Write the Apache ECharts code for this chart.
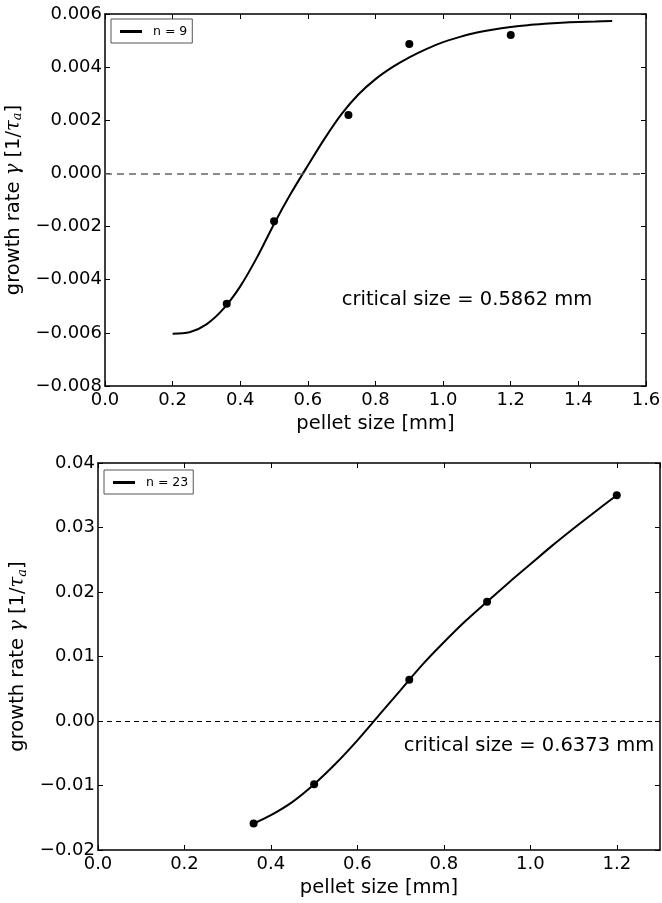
<!DOCTYPE html>
<html>
<head>
<meta charset="utf-8">
<script src="https://cdn.jsdelivr.net/npm/echarts@6/dist/echarts.min.js"></script>
<style>
  html, body { margin: 0; padding: 0; background: #fff; }
  #chart { width: 662px; height: 903px; }
</style>
</head>
<body>
<div id="chart"></div>
<script>
// ---- Top panel (n = 9) ----
const topPointsX = [0.36, 0.50, 0.72, 0.90, 1.20];
const topPointsY = [-0.0049, -0.0018, 0.0022, 0.00487, 0.00521];
const topCurveX = [0.20, 0.25, 0.30, 0.35, 0.40, 0.45, 0.50, 0.55, 0.60, 0.65, 0.70, 0.75, 0.80, 0.85, 0.90, 0.95, 1.00, 1.05, 1.10, 1.15, 1.20, 1.25, 1.30, 1.35, 1.40, 1.45, 1.50];
const topCurveY = [-0.00603, -0.00598, -0.00568, -0.00510, -0.00425, -0.00315, -0.00190, -0.00075, 0.00030, 0.00132, 0.00224, 0.00298, 0.00355, 0.00400, 0.00437, 0.00468, 0.00494, 0.00514, 0.00530, 0.00542, 0.00551, 0.00558, 0.00563, 0.00567, 0.00570, 0.00572, 0.00574];
const topXTicks = { min: 0, max: 1.6, interval: 0.2 };
const topYTicks = { min: -0.008, max: 0.006, interval: 0.002 };
const topLegend = 'n = 9';
const topCritical = 'critical size = 0.5862 mm';

// ---- Bottom panel (n = 23) ----
const botPointsX = [0.36, 0.50, 0.72, 0.90, 1.20];
const botPointsY = [-0.0159, -0.0098, 0.0064, 0.0185, 0.0350];
const botCurveX = [0.36, 0.40, 0.45, 0.50, 0.55, 0.60, 0.65, 0.70, 0.75, 0.80, 0.85, 0.90, 0.95, 1.00, 1.05, 1.10, 1.15, 1.20];
const botCurveY = [-0.0159, -0.0146, -0.01253, -0.0098, -0.0066, -0.0030, 0.0009, 0.0048, 0.0087, 0.0122, 0.0155, 0.0185, 0.02145, 0.0243, 0.02715, 0.02985, 0.03245, 0.0350];
const botXTicks = { min: 0, max: 1.3, interval: 0.2 };
const botYTicks = { min: -0.02, max: 0.04, interval: 0.01 };
const botLegend = 'n = 23';
const botCritical = 'critical size = 0.6373 mm';

const xTitle = 'pellet size [mm]';

const FONT = 'DejaVu Sans';
const FS_TICK = 18;
const FS_NAME = 19.5;

function zip(a, b) { return a.map((v, i) => [v, b[i]]); }
function fmt(d) { return v => v.toFixed(d).replace('-', '\u2212'); }

function xAxes(grid, t, dec, showMax) {
  const base = {
    type: 'value', gridIndex: grid, min: t.min, max: t.max, interval: t.interval,
    splitLine: { show: false },
    axisLine: { show: true, onZero: false, lineStyle: { color: '#000', width: 1.5 } },
    axisTick: { show: true, inside: true, length: 5, lineStyle: { color: '#000', width: 1 } }
  };
  return [
    Object.assign({}, base, {
      position: 'bottom',
      name: xTitle, nameLocation: 'middle', nameGap: 28,
      nameTextStyle: { fontFamily: FONT, fontSize: FS_NAME, color: '#000' },
      axisLabel: { show: true, margin: 5, formatter: fmt(dec), fontFamily: FONT, fontSize: FS_TICK, color: '#000', showMaxLabel: showMax, showMinLabel: true }
    }),
    Object.assign({}, base, { position: 'top', axisLabel: { show: false } })
  ];
}

function yAxes(grid, t, dec, gap) {
  const base = {
    type: 'value', gridIndex: grid, min: t.min, max: t.max, interval: t.interval,
    splitLine: { show: false },
    axisLine: { show: true, onZero: false, lineStyle: { color: '#000', width: 1.5 } },
    axisTick: { show: true, inside: true, length: 5, lineStyle: { color: '#000', width: 1 } }
  };
  return [
    Object.assign({}, base, {
      position: 'left',
      name: '{n|growth rate }{m|\u03b3}{n| [1/}{m|\u03c4}{s|a}{n|]}',
      nameLocation: 'middle', nameRotate: 90, nameGap: gap,
      nameTextStyle: {
        color: '#000',
        rich: {
          n: { fontFamily: FONT, fontSize: FS_NAME, color: '#000' },
          m: { fontFamily: 'DejaVu Serif', fontStyle: 'italic', fontSize: FS_NAME, color: '#000' },
          s: { fontFamily: 'DejaVu Serif', fontStyle: 'italic', fontSize: 13, color: '#000', verticalAlign: 'bottom', padding: [9, 0, 0, 0] }
        }
      },
      axisLabel: { show: true, margin: 3, formatter: fmt(dec), fontFamily: FONT, fontSize: FS_TICK, color: '#000', showMaxLabel: true, showMinLabel: true }
    }),
    Object.assign({}, base, { position: 'right', axisLabel: { show: false } })
  ];
}

function legendFor(name, left, top) {
  return {
    data: [name], left: left, top: top, orient: 'horizontal',
    icon: 'rect', itemWidth: 22, itemHeight: 3,
    borderColor: '#555', borderWidth: 1, borderRadius: 0,
    padding: [6, 5, 5, 9],
    backgroundColor: '#fff',
    selectedMode: false,
    textStyle: { fontFamily: FONT, fontSize: 12.5, color: '#000', padding: [0, 0, 0, 6] }
  };
}

const option = {
  animation: false,
  backgroundColor: '#fff',
  grid: [
    { left: 105, top: 14, width: 541, height: 372, containLabel: false, outerBoundsMode: 'none' },
    { left: 98, top: 463, width: 562, height: 387, containLabel: false, outerBoundsMode: 'none' }
  ],
  xAxis: [].concat(xAxes(0, topXTicks, 1, true), xAxes(1, botXTicks, 1, false)),
  yAxis: [].concat(yAxes(0, topYTicks, 3, 73), yAxes(1, botYTicks, 2, 66)),
  legend: [legendFor(topLegend, 111, 19), legendFor(botLegend, 104, 470)],
  series: [
    {
      name: topLegend, type: 'line', xAxisIndex: 0, yAxisIndex: 0,
      data: zip(topCurveX, topCurveY), showSymbol: false, smooth: 0.3,
      lineStyle: { color: '#000', width: 2 }, itemStyle: { color: '#000' },
      markLine: {
        silent: true, symbol: 'none', label: { show: false },
        lineStyle: { color: '#666', type: [7, 5], width: 1.5 },
        data: [{ yAxis: 0 }]
      }
    },
    {
      name: 'top points', type: 'scatter', xAxisIndex: 0, yAxisIndex: 0,
      data: zip(topPointsX, topPointsY), symbolSize: 8, itemStyle: { color: '#000', opacity: 1 }
    },
    {
      name: botLegend, type: 'line', xAxisIndex: 2, yAxisIndex: 2,
      data: zip(botCurveX, botCurveY), showSymbol: false, smooth: 0.3,
      lineStyle: { color: '#000', width: 2 }, itemStyle: { color: '#000' },
      markLine: {
        silent: true, symbol: 'none', label: { show: false },
        lineStyle: { color: '#000', type: [5, 4], width: 1 },
        data: [{ yAxis: 0 }]
      }
    },
    {
      name: 'bottom points', type: 'scatter', xAxisIndex: 2, yAxisIndex: 2,
      data: zip(botPointsX, botPointsY), symbolSize: 8, itemStyle: { color: '#000', opacity: 1 }
    }
  ],
  graphic: [
    { type: 'text', x: 467, y: 300, style: { text: topCritical, fontFamily: FONT, fontSize: FS_NAME, fill: '#000', align: 'center', verticalAlign: 'middle' } },
    { type: 'text', x: 529, y: 746, style: { text: botCritical, fontFamily: FONT, fontSize: FS_NAME, fill: '#000', align: 'center', verticalAlign: 'middle' } }
  ]
};

const chart = echarts.init(document.getElementById('chart'), null, { renderer: 'canvas' });
chart.setOption(option);
</script>
</body>
</html>
